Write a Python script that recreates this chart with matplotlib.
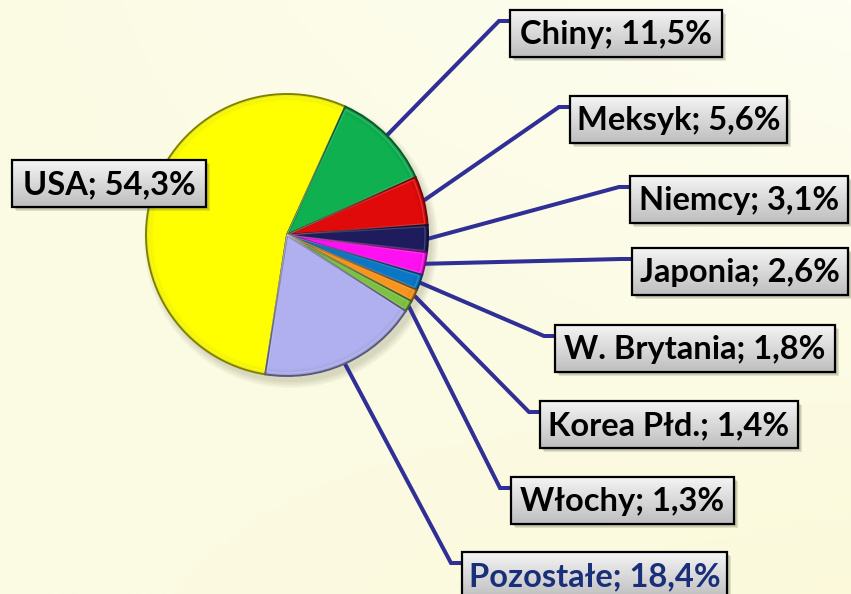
import numpy as np
import matplotlib
matplotlib.use("Agg")
import matplotlib.pyplot as plt
import matplotlib.colors as mcolors
from matplotlib.patches import Rectangle, Circle, Wedge

# Shares of the market by country (%)
countries = ["USA", "Chiny", "Meksyk", "Niemcy", "Japonia",
             "W. Brytania", "Korea Płd.", "Włochy", "Pozostałe"]
shares = [54.3, 11.5, 5.6, 3.1, 2.6, 1.8, 1.4, 1.3, 18.4]
slice_colors = ["#FFFF00", "#0FB050", "#E00A0A", "#1F1C5E", "#FF10F0",
                "#0A76C4", "#F7941D", "#7DC143", "#B0B0F0"]
text_colors = ["black"] * 8 + ["#1A2F7A"]

# Label boxes: left, top, width (pixel units, y measured from the top)
box_left = [12, 510, 570, 630, 632, 555, 540, 511, 462]
box_top = [160, 10, 96, 176, 248, 325, 401, 477, 552]
box_width = [194, 212, 217, 218, 216, 280, 258, 223, 265]
BOX_H = 47

W, H = 851, 594
fig = plt.figure(figsize=(W / 100, H / 100), dpi=100)
ax = fig.add_axes([0, 0, 1, 1])


def Y(y):
    return H - y


# Cream background with a soft gradient
gx = np.linspace(0, 1, 200)
gy = np.linspace(0, 1, 140)
GX, GY = np.meshgrid(gx, gy)
c_a = np.array(mcolors.to_rgb("#FBFBE4"))
c_b = np.array(mcolors.to_rgb("#FEFEF2"))
c_c = np.array(mcolors.to_rgb("#FBF9D8"))
t1 = np.clip(GX * (1 - GY), 0, 1)[..., None]
t2 = np.clip(GX * GY, 0, 1)[..., None] * 0.8
bg = c_a * (1 - t1 - t2) + c_b * t1 + c_c * t2
ax.imshow(bg, extent=(0, W, 0, H), origin="upper", aspect="auto", zorder=0)

cx, cy, R = 287, Y(235), 141

# Soft shadow under the pie
for k, a in enumerate([0.05, 0.05, 0.05, 0.05, 0.06]):
    ax.add_patch(Circle((cx + 4, cy - 6), R + 6 - k * 1.5, facecolor="#6b6b50",
                        alpha=a, edgecolor="none", zorder=1))

wedges, _ = ax.pie(shares, colors=slice_colors, startangle=261.1,
                   counterclock=False, center=(cx, cy), radius=R, frame=True,
                   wedgeprops=dict(linewidth=1.4, zorder=3))
for w, c in zip(wedges, slice_colors):
    rgb = np.array(mcolors.to_rgb(c))
    w.set_edgecolor(tuple(rgb * 0.5))
    w.set_zorder(3)
    # darker rim to suggest a bevel, fading inwards
    for k, a in enumerate([0.22, 0.14, 0.08]):
        ax.add_patch(Wedge((cx, cy), R - 0.8 - k * 2, w.theta1, w.theta2,
                           width=2, facecolor=tuple(rgb * 0.7), alpha=a,
                           edgecolor="none", zorder=4))
    # light inner highlight along the edges
    ax.add_patch(Wedge((cx, cy), R - 3, w.theta1 + 0.6, w.theta2 - 0.6,
                       facecolor="none",
                       edgecolor=tuple(np.clip(rgb * 0.5 + 0.5, 0, 1)),
                       linewidth=0.9, alpha=0.35, zorder=4))

line_color = "#2F2F96"
for i, (w, name, val) in enumerate(zip(wedges, countries, shares)):
    x0, top, bw = box_left[i], box_top[i], box_width[i]
    # leader line from the middle of the slice edge
    if i > 0:
        mid = np.deg2rad((w.theta1 + w.theta2) / 2)
        sx, sy = cx + R * np.cos(mid), cy + R * np.sin(mid)
        ey = Y(top + 11)
        ax.plot([sx, x0 - 11, x0], [sy, ey, ey], color=line_color, lw=2.9,
                solid_capstyle="butt", solid_joinstyle="miter", zorder=2)
    # box shadow
    for k, a in enumerate([0.12, 0.14, 0.16]):
        ax.add_patch(Rectangle((x0 + 2 + k, Y(top + BOX_H) - 2 - k), bw, BOX_H,
                               facecolor="#555544", edgecolor="none",
                               alpha=a, zorder=5))
    # gradient fill
    grad = np.linspace(0, 1, 64)[:, None]
    top_c = np.array(mcolors.to_rgb("#F4F4F4"))
    bot_c = np.array(mcolors.to_rgb("#BEBEBE"))
    g = top_c * (1 - grad[..., None]) + bot_c * grad[..., None]
    ax.imshow(g, extent=(x0, x0 + bw, Y(top + BOX_H), Y(top)), origin="upper",
              aspect="auto", zorder=6)
    ax.add_patch(Rectangle((x0, Y(top + BOX_H)), bw, BOX_H, facecolor="none",
                           edgecolor="black", linewidth=1.6, zorder=7))
    label = f"{name}; {str(val).replace('.', ',')}%"
    ax.text(x0 + bw / 2, Y(top + BOX_H / 2) - 1, label, ha="center",
            va="center", fontsize=23.5, fontweight="bold", family="Lato",
            color=text_colors[i], zorder=8)

ax.set_xlim(0, W)
ax.set_ylim(0, H)
ax.set_aspect("auto")
ax.axis("off")
fig.savefig("out.png", dpi=100)
